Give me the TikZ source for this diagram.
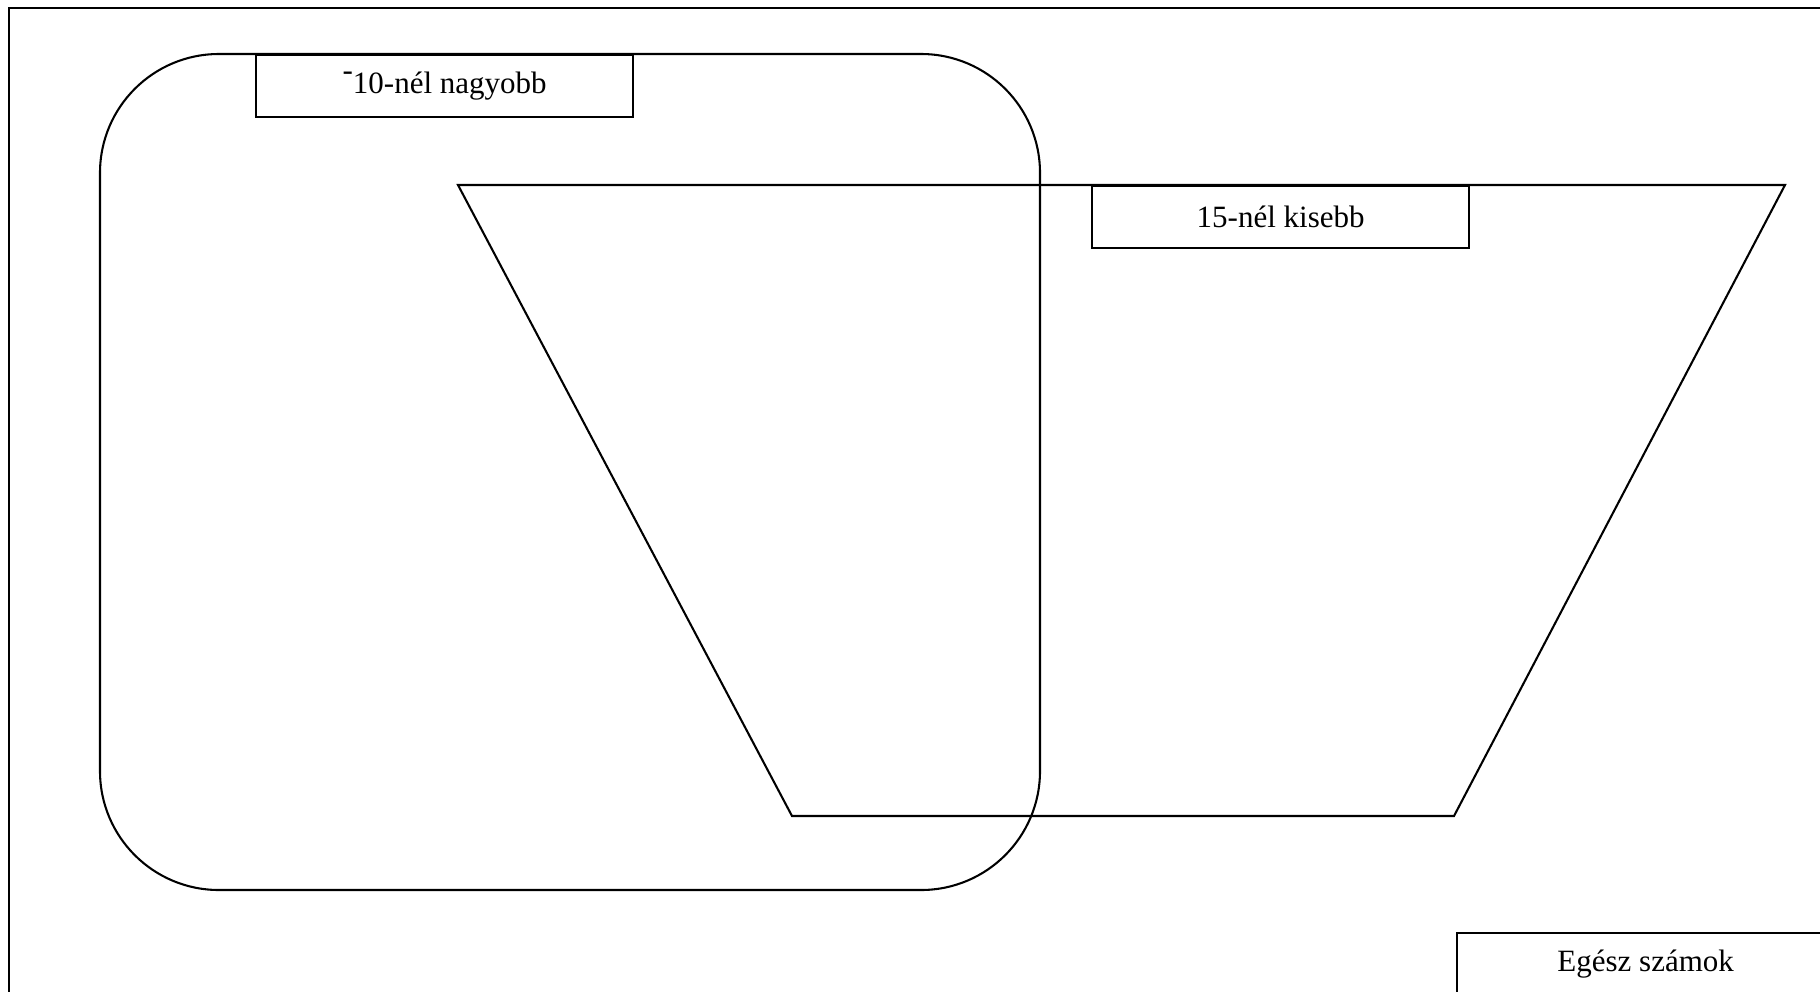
\documentclass[tikz,border=0pt]{standalone}
\usepackage{fontspec}
\setmainfont{Liberation Serif}
\tikzset{
  set line/.style={line width=0.8pt},
  tag/.style={draw,line width=0.8pt,fill=white,inner sep=0pt,minimum height=24pt,
    minimum width=146pt,font=\fontsize{12}{14}\selectfont,anchor=north west},
}
\begin{document}
\begin{tikzpicture}[x=0.387pt,y=-0.387pt]
  \clip (0,0) rectangle (1820,991);
  % egész számok
  \draw[line width=1.1pt] (9,8) rectangle (1840,1010);
  % -10-nél nagyobb
  \draw[set line,rounded corners=46pt] (100,54) rectangle (1040,890);
  % 15-nél kisebb
  \draw[set line] (458,185) -- (1785,185) -- (1454,816) -- (792,816) -- cycle;
  \node[tag] (big) at (255,54) {\raisebox{.42em}{-}10-nél nagyobb};
  \node[tag] (small) at (1091,185) {15-nél kisebb};
  \node[tag] (all) at (1456,932) {Egész számok};
\end{tikzpicture}
\end{document}
